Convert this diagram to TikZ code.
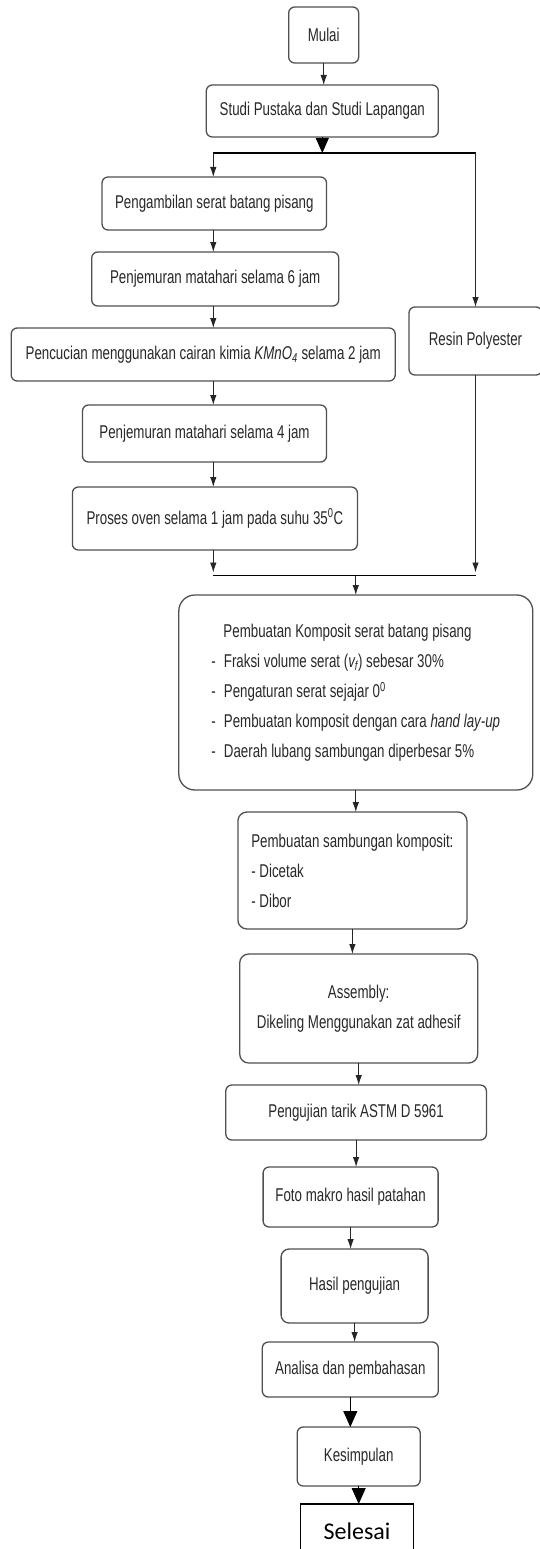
\documentclass[tikz,border=0pt]{standalone}
\usepackage{fontspec}
\setmainfont[FakeStretch=0.72]{Liberation Sans}
\newfontfamily\selesaifont{Carlito}
\usepackage{xcolor}
\definecolor{boxline}{RGB}{80,80,80}
\definecolor{boxtext}{RGB}{40,40,40}
\usetikzlibrary{positioning, calc, arrows.meta}
\tikzstyle{Step} = [
draw=boxline,
line width=1.3pt,
rounded corners=6pt,
text=boxtext,
font=\fontsize{18.5}{30}\selectfont,
inner sep=0pt,
outer sep=0pt,
align=center]
\tikzstyle{Arrow} = [line width=0.9pt, draw=black!85, -{Latex[length=10pt,width=6.5pt]}]
\tikzstyle{BigArrow} = [line width=0.9pt, -{Triangle[length=15pt,width=13pt]}]
\tikzstyle{Bar} = [line width=1.6pt, black]

\begin{document}
\begin{tikzpicture}[x=1pt, y=1pt]
    \useasboundingbox (0,0) rectangle (539,-1549);

    \node [Step, minimum width=70pt, minimum height=56pt] (mulai) at (323.7,-35) {Mulai};
    \node [Step, minimum width=232pt, minimum height=52pt, below=22pt of mulai, xshift=-1.4pt] (studi) {Studi Pustaka dan Studi Lapangan};
    \coordinate [below=16pt of studi] (fork);
    \coordinate [left=109pt of fork] (forkL);

    % left column: serat
    \node [Step, minimum width=224.5pt, minimum height=53pt, below=40pt of studi, xshift=-108pt] (ambil) {Pengambilan serat batang pisang};
    \node [Step, minimum width=247pt, minimum height=54pt, below=22pt of ambil, xshift=0.9pt] (jemur6) {Penjemuran matahari selama 6 jam};
    \node [Step, minimum width=384pt, minimum height=53pt, below=22pt of jemur6, xshift=-12pt] (cuci) {Pencucian menggunakan cairan kimia \textit{KMnO\textsubscript{4}} selama 2 jam};
    \node [Step, minimum width=244pt, minimum height=57pt, below=24pt of cuci, xshift=1.3pt] (jemur4) {Penjemuran matahari selama 4 jam};
    \node [Step, minimum width=285pt, minimum height=63pt, below=25pt of jemur4, xshift=10.4pt] (oven) {Proses oven selama 1 jam pada suhu 35\textsuperscript{0}C};

    % right column: resin
    \node [Step, minimum width=133pt, minimum height=68pt, below=170pt of studi, xshift=153.2pt] (resin) {Resin Polyester};
    \coordinate (forkR) at (fork -| resin);
    \coordinate (joinL) at ($(oven.south -| forkL)+(0,-25.5)$);
    \coordinate (joinR) at (joinL -| resin);

    \node [Step, rounded corners=16pt, minimum width=354pt, minimum height=195pt, align=left, below=45pt of oven, xshift=140.9pt] (komposit) {\hspace*{12pt}Pembuatan Komposit serat batang pisang\\
        -\hspace{8pt}Fraksi volume serat (\textit{v\textsubscript{f}}) sebesar 30\%\\
        -\hspace{8pt}Pengaturan serat sejajar 0\textsuperscript{0}\\
        -\hspace{8pt}Pembuatan komposit dengan cara \textit{hand lay-up}\\
        -\hspace{8pt}Daerah lubang sambungan diperbesar 5\%};
    \node [Step, rounded corners=9pt, minimum width=229pt, minimum height=117pt, align=left, below=22pt of komposit, xshift=-3.4pt] (sambung) {Pembuatan sambungan komposit:\\- Dicetak\\- Dibor};
    \node [Step, rounded corners=9pt, minimum width=238pt, minimum height=109pt, below=25pt of sambung, xshift=6.3pt] (assembly) {Assembly:\\Dikeling Menggunakan zat adhesif};
    \node [Step, minimum width=260.6pt, minimum height=55pt, below=22pt of assembly, xshift=-2.6pt] (uji) {Pengujian tarik ASTM D 5961};
    \node [Step, minimum width=175pt, minimum height=60pt, below=27pt of uji, xshift=-5.5pt] (foto) {Foto makro hasil patahan};
    \node [Step, rounded corners=8pt, minimum width=147pt, minimum height=74pt, below=22pt of foto, xshift=4pt] (hasil) {Hasil pengujian};
    \node [Step, minimum width=176pt, minimum height=55pt, below=19pt of hasil, xshift=-4.3pt] (analisa) {Analisa dan pembahasan};
    \node [Step, minimum width=123pt, minimum height=59pt, below=30pt of analisa, xshift=8.4pt] (kesimpulan) {Kesimpulan};
    \node [draw=black, line width=1.3pt, inner sep=0pt, outer sep=0pt, minimum width=112.4pt, minimum height=54pt, font=\selesaifont\fontsize{24}{28}\selectfont, below=18pt of kesimpulan, xshift=-1.7pt] (selesai) {Selesai};

    \draw[Arrow] (mulai.south) -- (mulai.south |- studi.north);
    \draw[BigArrow] (studi.south) -- (fork);
    \draw[Bar] (forkL) -- (forkR);
    \draw[Arrow] (forkL) -- (forkL |- ambil.north);
    \draw[Arrow] (forkR) -- (resin.north);
    \draw[Arrow] (ambil.south -| forkL) -- (forkL |- jemur6.north);
    \draw[Arrow] (jemur6.south -| forkL) -- (forkL |- cuci.north);
    \draw[Arrow] (cuci.south -| forkL) -- (forkL |- jemur4.north);
    \draw[Arrow] (jemur4.south -| forkL) -- (forkL |- oven.north);
    \draw[Arrow, shorten >=3pt] (oven.south -| forkL) -- (joinL);
    \draw[Arrow, shorten >=3pt] (resin.south) -- (joinR);
    \draw[Bar] (joinL) -- (joinR);
    \draw[Arrow] (joinL -| komposit) -- (komposit.north);
    \draw[Arrow] (komposit.south) -- (komposit.south |- sambung.north);
    \draw[Arrow] (sambung.south) -- (sambung.south |- assembly.north);
    \draw[Arrow] (assembly.south) -- (assembly.south |- uji.north);
    \draw[Arrow] (uji.south) -- (uji.south |- foto.north);
    \draw[Arrow] (foto.south) -- (foto.south |- hasil.north);
    \draw[Arrow] (hasil.south) -- (hasil.south |- analisa.north);
    \draw[BigArrow, -{Triangle[length=16pt,width=14pt]}] (analisa.south) -- (analisa.south |- kesimpulan.north);
    \draw[BigArrow, -{Triangle[length=16pt,width=14pt]}] (kesimpulan.south) -- (kesimpulan.south |- selesai.north);
\end{tikzpicture}
\end{document}
